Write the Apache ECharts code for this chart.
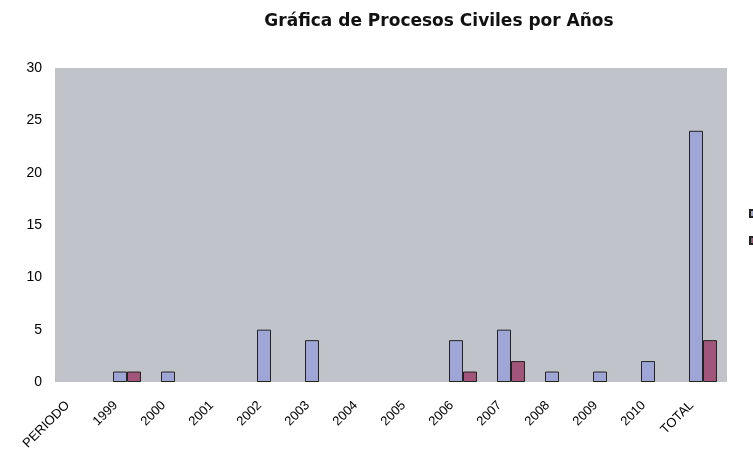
<!DOCTYPE html>
<html>
<head>
<meta charset="utf-8">
<script src="https://cdn.jsdelivr.net/npm/echarts@6/dist/echarts.min.js"></script>
<style>
  html, body { margin: 0; padding: 0; background: #fff; }
  #chart { width: 753px; height: 450px; }
</style>
</head>
<body>
<div id="chart"></div>
<script>
// categorias del eje X
const periodos = ['PERIODO', '1999', '2000', '2001', '2002', '2003', '2004', '2005',
  '2006', '2007', '2008', '2009', '2010', 'TOTAL'];
// valores
const procesos = [0, 1, 1, 0, 5, 4, 0, 0, 4, 5, 1, 1, 2, 24];
const fallos = [0, 1, 0, 0, 0, 0, 0, 0, 1, 2, 0, 0, 0, 4];
const yTicks = [0, 5, 10, 15, 20, 25, 30];

// los ceros no se dibujan en la grafica original
function sinCeros(arr) {
  return arr.map(v => (v === 0 ? '-' : v));
}

const font = '"Liberation Sans", Arial, sans-serif';

const chart = echarts.init(document.getElementById('chart'));
chart.setOption({
  backgroundColor: '#ffffff',
  animation: false,
  title: {
    text: 'Gráfica de Procesos Civiles por Años',
    left: 434,
    textAlign: 'center',
    top: 8,
    textStyle: { fontFamily: '"DejaVu Sans", sans-serif', fontSize: 17, fontWeight: 'bold', color: '#111' }
  },
  legend: {
    data: ['Procesos', 'Fallos'],
    orient: 'vertical',
    left: 749,
    top: 208,
    width: 100,
    itemWidth: 7,
    itemHeight: 7,
    itemGap: 16,
    icon: 'rect',
    padding: 0,
    textStyle: { fontFamily: font, fontSize: 11, color: '#000' }
  },
  grid: {
    left: 55, right: 26, top: 68, bottom: 68,
    outerBoundsMode: 'none',
    show: true, backgroundColor: '#c0c4ca', borderWidth: 0
  },
  xAxis: {
    type: 'category',
    data: periodos,
    axisLine: { show: false },
    axisTick: { show: false },
    axisLabel: {
      rotate: 45,
      interval: 0,
      margin: 10,
      padding: [0, 16, 0, 0],
      fontFamily: font,
      fontSize: 13,
      color: '#000'
    }
  },
  yAxis: {
    type: 'value',
    min: yTicks[0],
    max: yTicks[yTicks.length - 1],
    interval: 5,
    axisLine: { show: false },
    axisTick: { show: false },
    splitLine: { show: false },
    axisLabel: { fontFamily: font, fontSize: 14, color: '#000', margin: 13 }
  },
  series: [
    {
      name: 'Procesos',
      type: 'bar',
      data: sinCeros(procesos),
      barWidth: 14,
      barGap: '0%',
      itemStyle: { color: '#9ea6d6', borderColor: '#222', borderWidth: 1 }
    },
    {
      name: 'Fallos',
      type: 'bar',
      data: sinCeros(fallos),
      barWidth: 14,
      barGap: '0%',
      itemStyle: { color: '#a2557b', borderColor: '#222', borderWidth: 1 }
    }
  ]
});
</script>
</body>
</html>
